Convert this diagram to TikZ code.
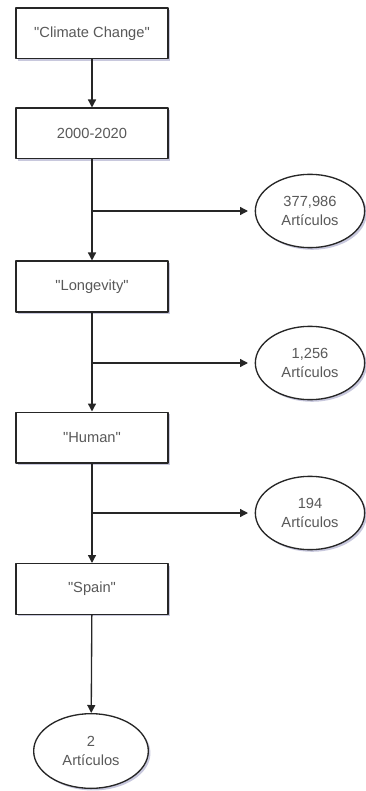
\documentclass[tikz,border=0pt]{standalone}
\usepackage{fontspec}
\setmainfont{Liberation Sans}[Ligatures=TeXOff]
\usetikzlibrary{arrows.meta,shapes.geometric,shadows}

\begin{document}
\begin{tikzpicture}[x=0.75pt, y=-0.75pt, font=\fontsize{11}{14.25}\selectfont, line join=round, >={Triangle[length=6pt,width=6pt]},
		sombra/.style={drop shadow={shadow xshift=1.6pt, shadow yshift=-1.6pt, fill=blue!25!gray, opacity=0.35}},
		caja/.style={draw=black!85, line width=1pt, fill=white, text=black!65, minimum width=114pt, minimum height=38pt, inner sep=0pt, sombra},
		elipse/.style={ellipse, draw=black!85, line width=1pt, fill=white, text=black!65, minimum width=82pt, minimum height=55pt, inner sep=0pt, align=center, sombra},
		flecha/.style={->, line width=1pt, black!85}]
	\useasboundingbox (0,0) rectangle (365,791);
	% cadena de filtros
	\node[caja] (clima) at (92,33.5) {"Climate Change"};
	\node[caja] (anios) at (92,133.5) {2000-2020};
	\node[caja] (longev) at (92,286.5) {"Longevity"};
	\node[caja] (humano) at (92,437.5) {"Human"};
	\node[caja] (espana) at (92,589) {"Spain"};
	% resultados
	\node[elipse] (res1) at (310,211) {377,986\\Artículos};
	\node[elipse] (res2) at (310,363) {1,256\\Artículos};
	\node[elipse] (res3) at (310,513) {194\\Artículos};
	\node[elipse, minimum width=86pt, minimum height=56pt] (res4) at (91,751) {2\\Artículos};
	\coordinate (r1) at (92,211);
	\coordinate (r2) at (92,363);
	\coordinate (r3) at (92,513);
	\draw[flecha] (clima) -- (anios);
	\draw[flecha] (anios) -- (longev);
	\draw[flecha] (longev) -- (humano);
	\draw[flecha] (humano) -- (espana);
	\draw[flecha] (espana) -- (res4);
	\draw[flecha, shorten >=5pt] (r1) -- (r1 -| res1.west);
	\draw[flecha, shorten >=5pt] (r2) -- (r2 -| res2.west);
	\draw[flecha, shorten >=5pt] (r3) -- (r3 -| res3.west);
\end{tikzpicture}
\end{document}
